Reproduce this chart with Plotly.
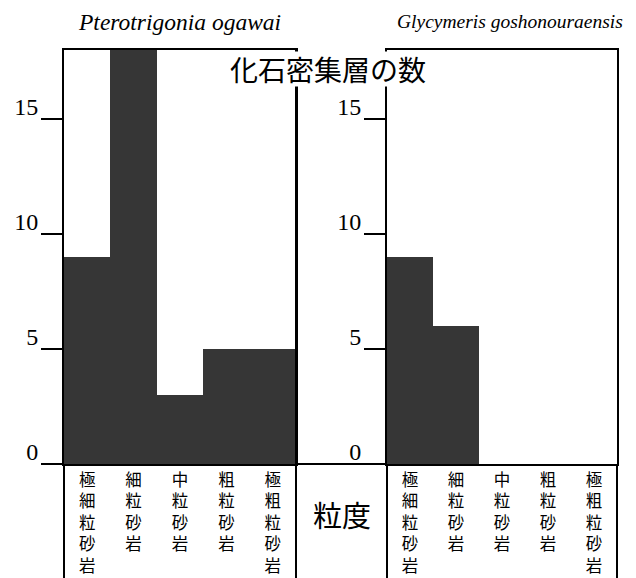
import plotly.graph_objects as go

categories = ["極細粒砂岩", "細粒砂岩", "中粒砂岩", "粗粒砂岩", "極粗粒砂岩"]
pterotrigonia = [9, 18, 3, 5, 5]
glycymeris = [9, 6, 0, 0, 0]
tick_vals = [0, 5, 10, 15]
species = ["Pterotrigonia ogawai", "Glycymeris goshonouraensis"]
main_title = "化石密集層の数"
grain_label = "粒度"

W, H = 636, 578
TOP, BOT = 50, 464
PLOT_H = BOT - TOP

def px_x(p):
    return p / W

def px_y(p):
    return (BOT - p) / PLOT_H

BAR_COLOR = "#363636"
SERIF = "Liberation Serif, Times New Roman, serif"
CJK = "Noto Sans CJK JP, sans-serif"

vertical = ["<br>".join(list(c)) for c in categories]

fig = go.Figure()
fig.add_trace(go.Bar(x=categories, y=pterotrigonia, marker=dict(color=BAR_COLOR, line=dict(width=0)),
                     xaxis="x", yaxis="y", showlegend=False, hoverinfo="x+y"))
fig.add_trace(go.Bar(x=categories, y=glycymeris, marker=dict(color=BAR_COLOR, line=dict(width=0)),
                     xaxis="x2", yaxis="y2", showlegend=False, hoverinfo="x+y"))

xcommon = dict(type="category", tickmode="array", tickvals=categories, ticktext=vertical,
               ticks="", showline=True, linecolor="black", linewidth=2, mirror=True,
               showgrid=False, zeroline=False, automargin=False,
               tickfont=dict(family=CJK, size=16.5, color="black"), tickangle=0)
ycommon = dict(range=[0, 18], tickmode="array", tickvals=tick_vals,
               ticks="outside", ticklen=21, tickwidth=1.5, tickcolor="black",
               showline=True, linecolor="black", linewidth=2, mirror=True,
               showgrid=False, zeroline=False, automargin=False, ticklabelshift=-12,
               ticklabelstandoff=-2,
               tickfont=dict(family=SERIF, size=24, color="black"))

fig.update_layout(
    width=W, height=H,
    margin=dict(l=0, r=0, t=TOP, b=H - BOT, pad=0),
    template="none",
    paper_bgcolor="white", plot_bgcolor="white",
    bargap=0,
    xaxis=dict(domain=[px_x(64), px_x(296)], anchor="y", **xcommon),
    yaxis=dict(domain=[0, 1], anchor="x", **ycommon),
    xaxis2=dict(domain=[px_x(387), px_x(617)], anchor="y2", **xcommon),
    yaxis2=dict(domain=[0, 1], anchor="x2", **ycommon),
)

shapes = []
for xp in [64, 296, 387, 617]:
    shapes.append(dict(type="line", xref="paper", yref="paper",
                       x0=px_x(xp), x1=px_x(xp), y0=px_y(464), y1=px_y(580),
                       line=dict(color="black", width=2)))
shapes.append(dict(type="line", xref="paper", yref="paper",
                   x0=px_x(296), x1=px_x(387), y0=0, y1=0,
                   line=dict(color="black", width=2)))
shapes.append(dict(type="line", xref="paper", yref="paper",
                   x0=px_x(296), x1=px_x(296), y0=0, y1=1,
                   line=dict(color="black", width=2)))
fig.update_layout(shapes=shapes)

common_ann = dict(xref="paper", yref="paper", showarrow=False, xanchor="center", yanchor="middle")
fig.add_annotation(text=f"<i>{species[0]}</i>", x=px_x(179), y=px_y(22),
                   font=dict(family=SERIF, size=23.5, color="black"), **common_ann)
fig.add_annotation(text=f"<i>{species[1]}</i>", x=px_x(510), y=px_y(22),
                   font=dict(family=SERIF, size=19.5, color="black"), **common_ann)
fig.add_annotation(text=main_title, x=px_x(328), y=px_y(69), bgcolor="white", borderpad=1,
                   height=32, font=dict(family=CJK, size=28, color="black"), **common_ann)
fig.add_annotation(text=grain_label, x=px_x(342), y=px_y(514),
                   font=dict(family=CJK, size=29, color="black"), **common_ann)

fig.write_html("out.html", config={"displayModeBar": False},
               post_script="document.body.style.margin='0';document.body.style.padding='0';")
